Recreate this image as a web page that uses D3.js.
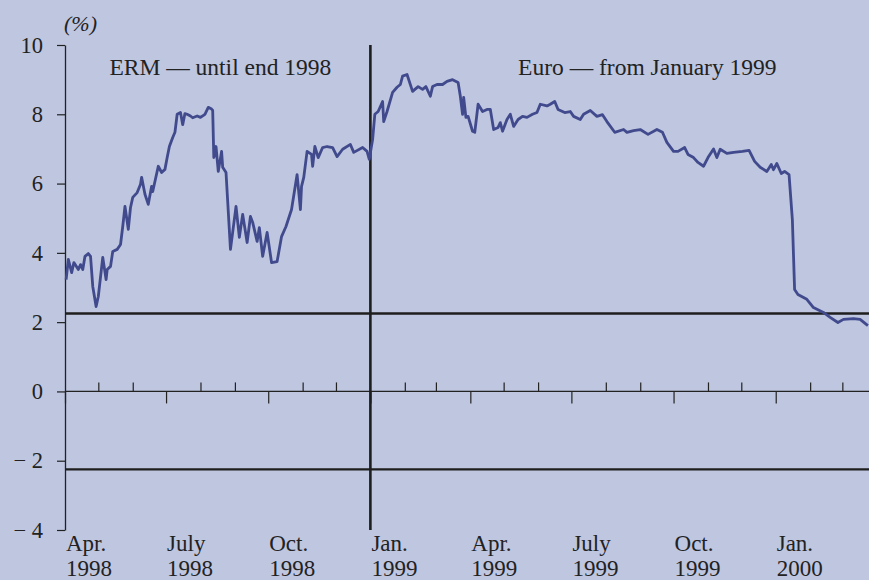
<!doctype html>
<html>
  <head>
    <script src="https://cdnjs.cloudflare.com/ajax/libs/d3/7.8.5/d3.min.js"></script>
    <style>
      body { margin: 0; background: #bec6e0; }
      svg { display: block; font-family: "Liberation Serif", "Times New Roman", serif; }
    </style>
  </head>
  <body>
    <svg></svg>
    <script>
      var width = 869,
          height = 580;

      // dates of the readings
      var dates = [
        "1998-04-02","1998-04-04","1998-04-07","1998-04-09","1998-04-13","1998-04-15","1998-04-17","1998-04-19",
        "1998-04-22","1998-04-24","1998-04-26","1998-04-29","1998-05-01","1998-05-05","1998-05-08","1998-05-09",
        "1998-05-12","1998-05-14","1998-05-18","1998-05-21","1998-05-23","1998-05-25","1998-05-28","1998-05-30",
        "1998-06-01","1998-06-05","1998-06-08","1998-06-09","1998-06-12","1998-06-15","1998-06-18","1998-06-19",
        "1998-06-24","1998-06-27","1998-06-30","1998-07-02","1998-07-04","1998-07-07","1998-07-09","1998-07-11",
        "1998-07-14","1998-07-16","1998-07-18","1998-07-20","1998-07-23","1998-07-25","1998-07-29","1998-08-01",
        "1998-08-05","1998-08-08","1998-08-11","1998-08-12","1998-08-13","1998-08-15","1998-08-17","1998-08-20",
        "1998-08-21","1998-08-24","1998-08-28","1998-08-30","1998-09-02","1998-09-05","1998-09-08","1998-09-12",
        "1998-09-15","1998-09-17","1998-09-21","1998-09-23","1998-09-26","1998-09-30","1998-10-04","1998-10-09",
        "1998-10-13","1998-10-17","1998-10-22","1998-10-27","1998-10-30","1998-10-31","1998-11-02","1998-11-05",
        "1998-11-09","1998-11-10","1998-11-12","1998-11-15","1998-11-19","1998-11-23","1998-11-28","1998-12-02",
        "1998-12-07","1998-12-14","1998-12-17","1998-12-25","1998-12-29","1998-12-31","1999-01-03","1999-01-05",
        "1999-01-08","1999-01-12","1999-01-13","1999-01-16","1999-01-21","1999-01-25","1999-01-28","1999-01-30",
        "1999-02-03","1999-02-08","1999-02-13","1999-02-17","1999-02-20","1999-02-24","1999-02-26","1999-03-02",
        "1999-03-07","1999-03-11","1999-03-16","1999-03-21","1999-03-23","1999-03-25","1999-03-26","1999-03-28",
        "1999-03-30","1999-04-03","1999-04-05","1999-04-08","1999-04-12","1999-04-16","1999-04-19","1999-04-22",
        "1999-04-26","1999-04-28","1999-04-30","1999-05-04","1999-05-07","1999-05-10","1999-05-14","1999-05-18",
        "1999-05-22","1999-05-27","1999-05-31","1999-06-03","1999-06-09","1999-06-12","1999-06-16","1999-06-19",
        "1999-06-25","1999-06-30","1999-07-03","1999-07-09","1999-07-12","1999-07-18","1999-07-24","1999-07-29",
        "1999-08-02","1999-08-09","1999-08-17","1999-08-20","1999-08-26","1999-09-01","1999-09-08","1999-09-16",
        "1999-09-21","1999-09-25","1999-10-01","1999-10-05","1999-10-11","1999-10-14","1999-10-19","1999-10-23",
        "1999-10-28","1999-11-01","1999-11-06","1999-11-09","1999-11-12","1999-11-18","1999-11-24","1999-12-02",
        "1999-12-08","1999-12-13","1999-12-18","1999-12-24","1999-12-28","1999-12-30","2000-01-02","2000-01-06",
        "2000-01-09","2000-01-13","2000-01-16","2000-01-18","2000-01-21","2000-01-29","2000-02-04","2000-02-13",
        "2000-02-19","2000-02-26","2000-03-02","2000-03-11","2000-03-17","2000-03-24"
      ];

      // spread (%)
      var values = [
        3.23,3.81,3.43,3.72,3.52,3.66,3.52,3.90,
        3.98,3.90,3.03,2.45,2.74,3.87,3.23,3.52,
        3.61,4.04,4.10,4.24,4.76,5.34,4.68,5.31,
        5.60,5.74,5.98,6.18,5.69,5.40,5.92,5.77,
        6.50,6.32,6.41,6.75,7.07,7.33,7.48,8.00,
        8.05,7.70,8.02,8.00,7.95,7.90,7.95,7.91,
        8.00,8.20,8.15,8.11,6.75,7.07,6.35,6.93,
        6.47,6.32,4.10,4.59,5.34,4.45,5.11,4.30,
        5.05,4.88,4.33,4.73,3.90,4.59,3.72,3.75,
        4.47,4.76,5.25,6.26,5.25,5.92,6.18,6.93,
        6.84,6.50,7.07,6.75,7.04,7.07,7.04,6.78,
        6.99,7.13,6.90,7.04,6.93,6.70,7.27,8.00,
        8.08,8.37,7.79,8.08,8.63,8.78,8.86,9.10,
        9.15,8.66,8.80,8.72,8.80,8.52,8.80,8.86,
        8.86,8.95,9.00,8.92,8.52,8.00,8.49,7.91,
        7.94,7.51,7.48,8.29,8.08,8.14,8.14,7.56,
        7.62,7.76,7.51,7.85,8.00,7.65,7.85,7.94,
        7.91,8.00,8.05,8.29,8.24,8.29,8.37,8.14,
        8.05,8.08,7.94,7.85,8.00,8.11,7.94,7.99,
        7.79,7.48,7.56,7.48,7.53,7.56,7.42,7.56,
        7.48,7.19,6.93,6.93,7.04,6.84,6.75,6.61,
        6.50,6.75,7.00,6.75,6.99,6.87,6.90,6.93,
        6.96,6.64,6.47,6.35,6.55,6.40,6.58,6.29,
        6.35,6.26,4.95,2.94,2.80,2.66,2.42,2.28,
        2.14,1.99,2.08,2.10,2.08,1.90
      ];

      var yTicks = [10, 8, 6, 4, 2, 0, -2, -4];
      var quarterLabels = [
        ["1998-04-01", "Apr.", "1998"], ["1998-07-01", "July", "1998"], ["1998-10-01", "Oct.", "1998"],
        ["1999-01-01", "Jan.", "1999"], ["1999-04-01", "Apr.", "1999"], ["1999-07-01", "July", "1999"],
        ["1999-10-01", "Oct.", "1999"], ["2000-01-01", "Jan.", "2000"]
      ];
      var bandLevels = [2.25, -2.25];
      var regimeSplit = "1999-01-01";
      var periodLabels = [["1998-05-11", "ERM — until end 1998"], ["1999-05-14", "Euro — from January 1999"]];

      var parse = d3.timeParse("%Y-%m-%d");
      var data = dates.map((d, i) => ({date: parse(d), value: values[i]}));

      var x = d3.scaleTime()
          .domain([new Date(1998, 3, 1), new Date(2000, 2, 25)])
          .range([65, 869]);
      var y = d3.scaleLinear().domain([-4, 10]).range([530, 45]);

      var svg = d3.select("svg").attr("width", width).attr("height", height);
      svg.append("rect").attr("width", width).attr("height", height).attr("fill", "#bec6e0");

      // month ticks above zero line, quarter ticks below
      var months = d3.timeMonth.range(new Date(1998, 3, 1), new Date(2000, 2, 25));
      var minor = months.filter(d => d.getMonth() % 3 != 0);
      var major = months.filter(d => d.getMonth() % 3 == 0);

      svg.append("g")
          .attr("transform", "translate(0," + y(0) + ")")
          .call(d3.axisTop(x).tickValues(minor).tickSize(9).tickFormat(""))
          .call(g => g.select(".domain").remove())
          .selectAll("line").attr("stroke", "#222").attr("stroke-width", 1.2);
      svg.append("g")
          .attr("transform", "translate(0," + y(0) + ")")
          .call(d3.axisBottom(x).tickValues(major).tickSize(12).tickFormat(""))
          .call(g => g.select(".domain").remove())
          .selectAll("line").attr("stroke", "#222").attr("stroke-width", 1.2);

      // zero line
      svg.append("line")
          .attr("x1", x.range()[0]).attr("x2", x.range()[1])
          .attr("y1", y(0)).attr("y2", y(0))
          .attr("stroke", "#222").attr("stroke-width", 1.3);

      // y axis
      var yAxis = svg.append("g")
          .attr("transform", "translate(65,0)")
          .call(d3.axisLeft(y).tickValues(yTicks).tickSize(8).tickSizeOuter(0)
            .tickFormat(d => d < 0 ? "\u2212 " + Math.abs(d) : d));
      yAxis.select(".domain").attr("stroke", "#222").attr("stroke-width", 1.3);
      yAxis.selectAll("line").attr("stroke", "#222").attr("stroke-width", 1.2);
      yAxis.selectAll("text")
          .attr("x", -22)
          .attr("font-size", "22.5px")
          .attr("font-family", "Liberation Serif, serif")
          .attr("fill", "#222");

      // band lines
      svg.selectAll(".band").data(bandLevels).enter()
        .append("line")
          .attr("x1", x.range()[0]).attr("x2", x.range()[1])
          .attr("y1", d => y(d)).attr("y2", d => y(d))
          .attr("stroke", "#1e1e1e").attr("stroke-width", 2.4);

      // regime split
      svg.append("line")
          .attr("x1", x(parse(regimeSplit))).attr("x2", x(parse(regimeSplit)))
          .attr("y1", y(10)).attr("y2", y(-4))
          .attr("stroke", "#1e1e1e").attr("stroke-width", 2.6);

      // series
      var line = d3.line().x(d => x(d.date)).y(d => y(d.value));
      svg.append("path").datum(data)
          .attr("d", line)
          .attr("fill", "none")
          .attr("stroke", "#414a8c")
          .attr("stroke-width", 2.8)
          .attr("stroke-linejoin", "round");

      // x labels
      var xl = svg.selectAll(".xl").data(quarterLabels).enter()
        .append("text")
          .attr("x", d => x(parse(d[0])) + 1)
          .attr("y", 551)
          .attr("font-size", "23px")
          .attr("fill", "#222");
      xl.append("tspan").text(d => d[1]);
      xl.append("tspan").attr("x", d => x(parse(d[0])) + 1).attr("dy", 25).text(d => d[2]);

      // period labels
      svg.selectAll(".pl").data(periodLabels).enter()
        .append("text")
          .attr("x", d => x(parse(d[0])))
          .attr("y", 75)
          .attr("font-size", "23.5px")
          .attr("fill", "#222")
          .text(d => d[1]);

      svg.append("text")
          .attr("x", 64).attr("y", 31)
          .attr("font-size", "22px")
          .attr("font-style", "italic")
          .attr("fill", "#222")
          .text("(%)");
    </script>
  </body>
</html>
